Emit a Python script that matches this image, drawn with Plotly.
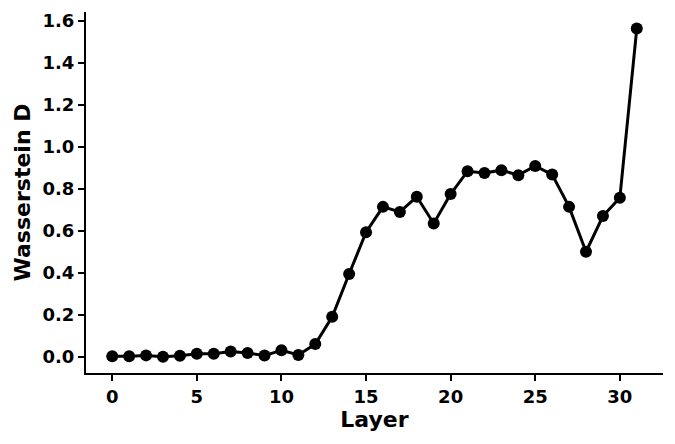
import plotly.graph_objects as go

layers = list(range(32))
wasserstein_d = [0.002, 0.002, 0.006, 0.0, 0.004, 0.014, 0.014, 0.025, 0.017, 0.005,
                 0.03, 0.008, 0.06, 0.19, 0.394, 0.593, 0.714, 0.69, 0.762, 0.635,
                 0.775, 0.884, 0.876, 0.889, 0.865, 0.909, 0.868, 0.714, 0.5, 0.67,
                 0.757, 1.564]
x_ticks = [0, 5, 10, 15, 20, 25, 30]
y_ticks = [0.0, 0.2, 0.4, 0.6, 0.8, 1.0, 1.2, 1.4, 1.6]

font = "DejaVu Sans"
fig = go.Figure(go.Scatter(
    x=layers, y=wasserstein_d, mode="lines+markers",
    line=dict(color="black", width=3),
    marker=dict(color="black", size=12),
    showlegend=False,
))
fig.update_layout(
    width=667, height=436,
    margin=dict(l=78, r=12, t=2, b=71),
    plot_bgcolor="white", paper_bgcolor="white",
    font=dict(family=font, color="black"),
)
fig.update_xaxes(
    range=[-1.55, 32.55], tickvals=x_ticks, ticktext=[f"<b>{v}</b>" for v in x_ticks],
    showgrid=False, zeroline=False, showline=True, linecolor="black", linewidth=2,
    ticks="outside", ticklen=6, tickwidth=1.5, tickcolor="black",
    tickfont=dict(size=18, family=font),
    title=dict(text="<b>Layer</b>", font=dict(size=22, family=font), standoff=4),
)
fig.update_yaxes(
    range=[-0.078, 1.643], tickvals=y_ticks, ticktext=[f"<b>{v:.1f}</b>" for v in y_ticks],
    showgrid=False, zeroline=False, showline=True, linecolor="black", linewidth=2,
    ticks="outside", ticklen=6, tickwidth=1.5, tickcolor="black",
    tickfont=dict(size=18, family=font),
    title=dict(text="<b>Wasserstein D</b>", font=dict(size=22, family=font), standoff=6),
)
fig.write_html("out.html")
